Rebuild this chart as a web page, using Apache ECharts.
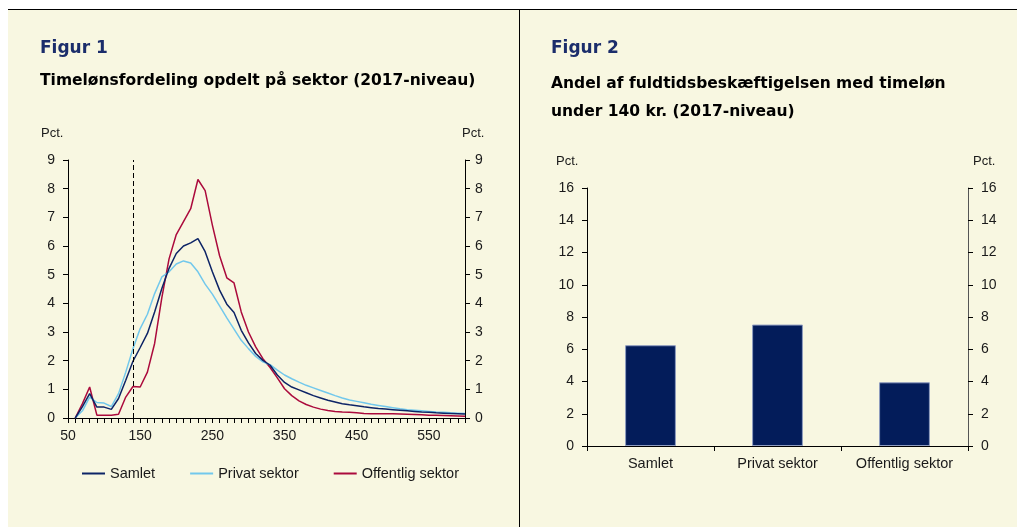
<!DOCTYPE html>
<html>
<head>
<meta charset="utf-8">
<script src="https://cdn.jsdelivr.net/npm/echarts@6/dist/echarts.min.js"></script>
<style>
html,body{margin:0;padding:0;background:#fff;width:1017px;height:527px;overflow:hidden;}
#bgL{position:absolute;left:8px;top:9px;width:511px;height:518px;background:#f8f7e1;border-top:1px solid #000;}
#bgR{position:absolute;left:519px;top:9px;width:498px;height:518px;background:#f8f7e1;border-top:1px solid #000;border-left:1px solid #000;}
#chart{position:absolute;left:0;top:0;width:1017px;height:527px;}
</style>
</head>
<body>
<div id="bgL"></div><div id="bgR"></div>
<div id="chart"></div>
<script>
// Figur 1: timeløn (kr.) og andel (pct.)
const wages = [60,70,80,90,100,110,120,130,140,150,160,170,180,190,200,210,220,230,240,250,260,270,280,290,300,310,320,330,340,350,360,370,380,390,400,410,420,430,440,450,460,470,480,490,500,510,520,530,540,550,560,570,580,590,600];
const samlet = [0,0.4,0.85,0.38,0.38,0.3,0.68,1.32,1.98,2.46,2.95,3.7,4.52,5.22,5.74,6.0,6.11,6.26,5.8,5.1,4.46,3.97,3.68,3.06,2.62,2.25,2.01,1.84,1.5,1.24,1.08,0.98,0.88,0.78,0.7,0.62,0.56,0.5,0.46,0.43,0.39,0.36,0.33,0.31,0.29,0.27,0.25,0.23,0.21,0.2,0.18,0.17,0.16,0.15,0.14];
const privat = [0,0.25,0.73,0.54,0.52,0.4,0.85,1.6,2.42,3.12,3.62,4.34,4.92,5.1,5.37,5.48,5.41,5.1,4.67,4.32,3.91,3.49,3.1,2.71,2.42,2.15,1.96,1.86,1.67,1.5,1.37,1.25,1.14,1.05,0.96,0.87,0.78,0.7,0.63,0.58,0.53,0.48,0.44,0.4,0.36,0.32,0.29,0.27,0.25,0.23,0.21,0.2,0.18,0.17,0.16];
const offentlig = [0,0.5,1.08,0.1,0.1,0.1,0.13,0.73,1.1,1.08,1.6,2.6,4.2,5.55,6.4,6.85,7.3,8.32,7.93,6.73,5.66,4.89,4.71,3.7,3.0,2.48,2.07,1.76,1.4,1.02,0.78,0.6,0.47,0.38,0.31,0.26,0.23,0.21,0.2,0.18,0.16,0.15,0.15,0.15,0.15,0.14,0.13,0.12,0.11,0.1,0.1,0.09,0.08,0.07,0.06];
const xTickLabels = [50,150,250,350,450,550];
const yTicks1 = [0,1,2,3,4,5,6,7,8,9];
const cutoff = 140;
// Figur 2
const categories = ['Samlet','Privat sektor','Offentlig sektor'];
const andel = [6.25,7.53,3.95];
const yTicks2 = [0,2,4,6,8,10,12,14,16];

const F = 'Liberation Sans, Arial, Helvetica, sans-serif';
const FT = 'DejaVu Sans, Verdana, sans-serif';
const txt = '#1a1a1a';
const pairs = arr => wages.map((w,i)=>[w,arr[i]]);

const chart = echarts.init(document.getElementById('chart'), null, {renderer:'canvas'});
const yAxisBase = (gi, pos, ticks, margin) => ({
  type:'value', gridIndex:gi, position:pos,
  min:ticks[0], max:ticks[ticks.length-1], interval:ticks[1]-ticks[0],
  axisLine:{show:true, lineStyle:{color:'#000', width:1}},
  axisTick:{show:true, length:5, lineStyle:{color:'#000'}},
  axisLabel:{color:txt, fontFamily:F, fontSize:14, margin:margin},
  splitLine:{show:false}
});
chart.setOption({
  animation:false,
  title:[
    {text:'Figur 1', left:40, top:40, padding:0, textStyle:{fontFamily:FT, fontWeight:'bold', fontSize:17, color:'#1b2d6b'}},
    {text:'Timelønsfordeling opdelt på sektor (2017-niveau)', left:40, top:73, padding:0, textStyle:{fontFamily:FT, fontWeight:'bold', fontSize:15.5, color:'#000'}},
    {text:'Pct.', left:41, top:127, padding:0, textStyle:{fontFamily:F, fontWeight:'normal', fontSize:13, color:txt}},
    {text:'Pct.', left:462, top:127, padding:0, textStyle:{fontFamily:F, fontWeight:'normal', fontSize:13, color:txt}},
    {text:'Figur 2', left:551, top:40, padding:0, textStyle:{fontFamily:FT, fontWeight:'bold', fontSize:17, color:'#1b2d6b'}},
    {text:'Andel af fuldtidsbeskæftigelsen med timeløn\nunder 140 kr. (2017-niveau)', left:551, top:70, padding:0, textStyle:{fontFamily:FT, fontWeight:'bold', fontSize:15.5, lineHeight:28, color:'#000'}},
    {text:'Pct.', left:556, top:155, padding:0, textStyle:{fontFamily:F, fontWeight:'normal', fontSize:13, color:txt}},
    {text:'Pct.', left:973, top:155, padding:0, textStyle:{fontFamily:F, fontWeight:'normal', fontSize:13, color:txt}}
  ],
  legend:{
    left:82, top:466, padding:0, itemWidth:23, itemHeight:2, itemGap:35, icon:'rect',
    textStyle:{fontFamily:F, fontSize:14.5, color:txt},
    data:['Samlet','Privat sektor','Offentlig sektor']
  },
  grid:[
    {left:68, top:160, width:397, height:258},
    {left:587, top:188, width:381, height:258}
  ],
  xAxis:[
    {type:'value', gridIndex:0, min:50, max:600, interval:50,
     axisLine:{show:true, onZero:false, lineStyle:{color:'#000'}},
     axisTick:{show:true, length:5, lineStyle:{color:'#000'}},
     minorTick:{show:true, splitNumber:5, length:5, lineStyle:{color:'#000'}},
     axisLabel:{color:txt, fontFamily:F, fontSize:14, margin:11,
       formatter: v => xTickLabels.indexOf(v) >= 0 ? String(v) : ''},
     splitLine:{show:false}, minorSplitLine:{show:false}},
    {type:'category', gridIndex:1, data:categories,
     axisLine:{show:true, lineStyle:{color:'#000'}},
     axisTick:{show:true, length:5, alignWithLabel:false, lineStyle:{color:'#000'}},
     axisLabel:{color:txt, fontFamily:F, fontSize:14.5, margin:10},
     splitLine:{show:false}}
  ],
  yAxis:[
    yAxisBase(0,'left',yTicks1,13),
    yAxisBase(0,'right',yTicks1,10),
    yAxisBase(1,'left',yTicks2,13),
    Object.assign(yAxisBase(1,'right',yTicks2,13), {axisLine:{show:true, lineStyle:{color:'#555', width:1}}})
  ],
  series:[
    {name:'Samlet', type:'line', xAxisIndex:0, yAxisIndex:0, data:pairs(samlet), symbol:'none',
     lineStyle:{color:'#0d2466', width:1.5}, itemStyle:{color:'#0d2466'}, z:4,
     markLine:{silent:true, symbol:'none', label:{show:false},
       lineStyle:{color:'#000', type:[5,3], width:1}, data:[{xAxis:cutoff}]}},
    {name:'Privat sektor', type:'line', xAxisIndex:0, yAxisIndex:0, data:pairs(privat), symbol:'none',
     lineStyle:{color:'#72c8ec', width:1.5}, itemStyle:{color:'#72c8ec'}, z:3},
    {name:'Offentlig sektor', type:'line', xAxisIndex:0, yAxisIndex:0, data:pairs(offentlig), symbol:'none',
     lineStyle:{color:'#ab0a3c', width:1.5}, itemStyle:{color:'#ab0a3c'}, z:2},
    {name:'Andel', type:'bar', xAxisIndex:1, yAxisIndex:2, data:andel, barWidth:'40%',
     itemStyle:{color:'#031c5a', borderColor:'#8e9cc0', borderWidth:1}}
  ]
});
</script>
</body>
</html>
